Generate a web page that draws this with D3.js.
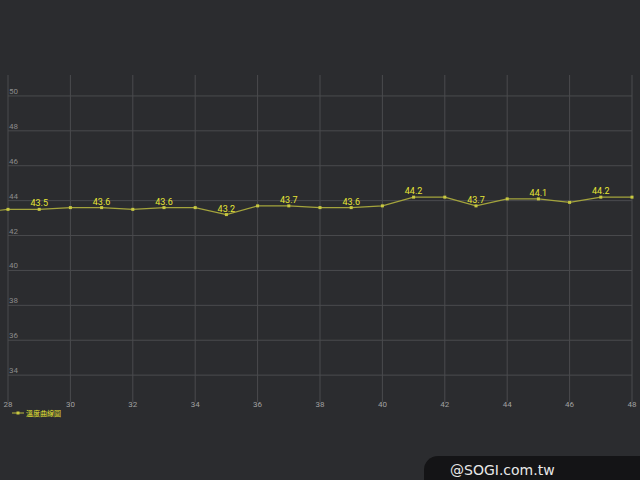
<!DOCTYPE html>
<html><head><meta charset="utf-8">
<script src="https://cdn.jsdelivr.net/npm/d3@7"></script>
<style>body{margin:0;background:#2b2c2f;}svg{display:block;}</style>
</head><body>
<script>
var days = d3.range(27, 49);
var temps = [43.3, 43.5, 43.5, 43.6, 43.6, 43.5, 43.6, 43.6, 43.2, 43.7, 43.7, 43.6, 43.6, 43.7, 44.2, 44.2, 43.7, 44.1, 44.1, 43.9, 44.2, 44.2];
var xTicks = d3.range(28, 49, 2);
var yTicks = d3.range(34, 51, 2);
var legendLabel = "溫度曲線圖";

var width = 640, height = 480;
var svg = d3.select("body").append("svg").attr("width", width).attr("height", height);
svg.append("rect").attr("width", width).attr("height", height).attr("fill", "#2b2c2f");

var x = d3.scaleLinear().domain([28, 48]).range([8, 632]);
var y = d3.scaleLinear().domain([32.46, 51.2]).range([402, 75]);

var g = svg.append("g");
g.selectAll(".vg").data(xTicks).enter().append("line")
  .attr("x1", d => x(d)).attr("x2", d => x(d)).attr("y1", 75).attr("y2", 402)
  .attr("stroke", "#4a4b4e").attr("stroke-width", 1);
g.selectAll(".hg").data(yTicks).enter().append("line")
  .attr("x1", 8).attr("x2", 632).attr("y1", d => y(d)).attr("y2", d => y(d))
  .attr("stroke", "#4a4b4e").attr("stroke-width", 1);

g.selectAll(".yl").data(yTicks).enter().append("text")
  .attr("x", 9).attr("y", d => y(d) - 2).text(d => d)
  .attr("fill", "#8a8a8a").attr("font-family", "Roboto").attr("font-size", 8);
g.selectAll(".xl").data(xTicks).enter().append("text")
  .attr("x", d => x(d)).attr("y", 407).attr("text-anchor", "middle").text(d => d)
  .attr("fill", "#a0a0a0").attr("font-family", "Roboto").attr("font-size", 8);

var pts = days.map((d, i) => [d, temps[i]]);
svg.append("clipPath").attr("id", "c").append("rect").attr("x", 0).attr("y", 0).attr("width", 634).attr("height", 480);
var plot = svg.append("g").attr("clip-path", "url(#c)");
plot.append("path").datum(pts)
  .attr("d", d3.line().x(d => x(d[0])).y(d => y(d[1])))
  .attr("fill", "none").attr("stroke", "#a4a43c").attr("stroke-width", 1.2);
plot.selectAll(".pt").data(pts.filter(d => d[0] >= 28)).enter().append("rect")
  .attr("x", d => x(d[0]) - 1.5).attr("y", d => y(d[1]) - 1.5).attr("width", 3).attr("height", 3)
  .attr("fill", "#c8c840");
plot.selectAll(".lb").data(pts.filter(d => d[0] >= 28 && d[0] % 2 === 1)).enter().append("text")
  .attr("x", d => x(d[0])).attr("y", d => y(d[1]) - 3).attr("text-anchor", "middle")
  .text(d => d[1].toFixed(1))
  .attr("fill", "#e6e636").attr("font-family", "Roboto").attr("font-size", 9);

// legend
svg.append("line").attr("x1", 12).attr("x2", 24).attr("y1", 413).attr("y2", 413).attr("stroke", "#a4a43c").attr("stroke-width", 1.2);
svg.append("rect").attr("x", 16.5).attr("y", 411.5).attr("width", 3).attr("height", 3).attr("fill", "#c8c840");
svg.append("text").attr("x", 26).attr("y", 416).text(legendLabel)
  .attr("fill", "#e6e636").attr("font-family", "Noto Sans CJK TC").attr("font-size", 7);

// watermark
svg.append("rect").attr("x", 424).attr("y", 456).attr("width", 240).attr("height", 40).attr("rx", 14).attr("fill", "#141416");
svg.append("text").attr("x", 450).attr("y", 475).text("@SOGI.com.tw")
  .attr("fill", "#e8e8e8").attr("font-family", "DejaVu Sans").attr("font-size", 14);
</script>
</body></html>
